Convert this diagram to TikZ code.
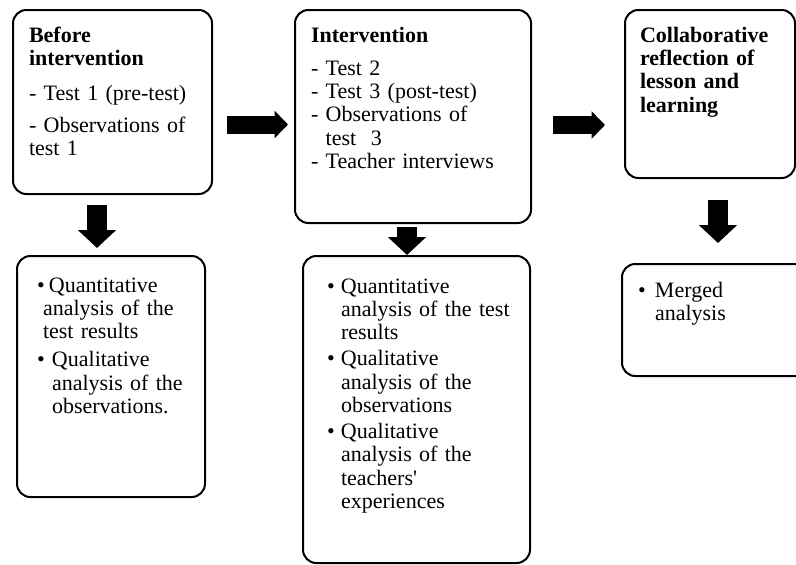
\documentclass[tikz,border=0pt]{standalone}
\usepackage{fontspec}
\setmainfont{Liberation Serif}
\usetikzlibrary{arrows.meta,positioning}

\newcommand{\bul}[1][10.5pt]{\makebox[#1][l]{\textbullet}}
\newcommand{\bulgap}[1][10.5pt]{\hspace*{#1}}

\begin{document}
\begin{tikzpicture}[font=\fontsize{16.5pt}{17.5pt}\selectfont,
 box/.style={draw=black,line width=1.5pt,rounded corners=10pt,anchor=north west,align=left,
   outer sep=0pt,inner ysep=0pt,inner xsep=12pt,text height=24pt},
 rarrow/.style={line width=13.5pt,-{Triangle[length=10pt,width=20pt]}},
 darrow/.style={line width=15pt,-{Triangle[length=13.5pt,width=28pt]}}]
\useasboundingbox (0,0) rectangle (597pt,-423pt);

% top row
\node[box,text width=125.25pt,text depth=114pt] (before) at (9.75pt,-7.5pt)
 {\textbf{Before}\\\textbf{intervention}\\[8.75pt]- Test 1 (pre-test)\\[6.5pt]- Observations of\\test 1};
\node[box,right=62.25pt of before.north east,anchor=north west,text width=153pt,text depth=135.75pt] (interv)
 {\textbf{Intervention}\\[7.25pt]- Test 2\\- Test 3 (post-test)\\- Observations of\\\phantom{- }test\ \ 3\\- Teacher interviews};
\node[box,right=70.5pt of interv.north east,anchor=north west,inner xsep=11.25pt,text width=105pt,text depth=102pt] (reflect)
 {\textbf{Collaborative}\\\textbf{reflection of}\\\textbf{lesson and}\\\textbf{learning}};

% analysis row
\node[box,below=46.5pt of before.south west,anchor=north west,xshift=3pt,inner xsep=15pt,text width=111pt,text height=27pt,text depth=153.75pt] (beforeres)
 {\bul[9pt]Quantitative\\\bulgap[4.5pt]analysis of the\\\bulgap[4.5pt]test results\\[3.5pt]\bul[11.25pt]Qualitative\\\bulgap[11.25pt]analysis of the\\\bulgap[11.25pt]observations.};
\node[box,below=24.75pt of interv.south west,anchor=north west,xshift=6pt,inner xsep=18pt,text width=134.25pt,text height=27.75pt,text depth=202.5pt] (intervres)
 {\bul Quantitative\\\bulgap\mbox{analysis of the test}\\\bulgap results\\[2pt]\bul Qualitative\\\bulgap analysis of the\\\bulgap observations\\[2pt]\bul Qualitative\\\bulgap analysis of the\\\bulgap teachers\textquotesingle\\\bulgap experiences};
\node[box,below=64.5pt of reflect.south west,anchor=north west,xshift=-2.25pt,text width=118.5pt,text height=24.75pt,text depth=59.25pt] (reflectres)
 {\bul[12.75pt]Merged\\\bulgap[12.75pt]analysis};

% block arrows
\draw[rarrow,shorten <=11.25pt,shorten >=5.25pt] ([yshift=-16.875pt]before.east) -- ([yshift=-6pt]interv.west);
\draw[rarrow,shorten <=16.5pt,shorten >=15pt] ([yshift=-6.375pt]interv.east) -- ([yshift=-23.25pt]reflect.west);
\draw[darrow,shorten <=8.25pt,shorten >=6pt] ([xshift=-11.625pt]before.south) -- ([xshift=-10.5pt]beforeres.north);
\draw[darrow,shorten <=3pt,shorten >=0.75pt] ([xshift=-4.5pt]interv.south) -- ([xshift=-7.125pt]intervres.north);
\draw[darrow,shorten <=16.5pt,shorten >=15.75pt] ([xshift=6pt]reflect.south) -- ([xshift=0.75pt]reflectres.north);
\end{tikzpicture}
\end{document}
